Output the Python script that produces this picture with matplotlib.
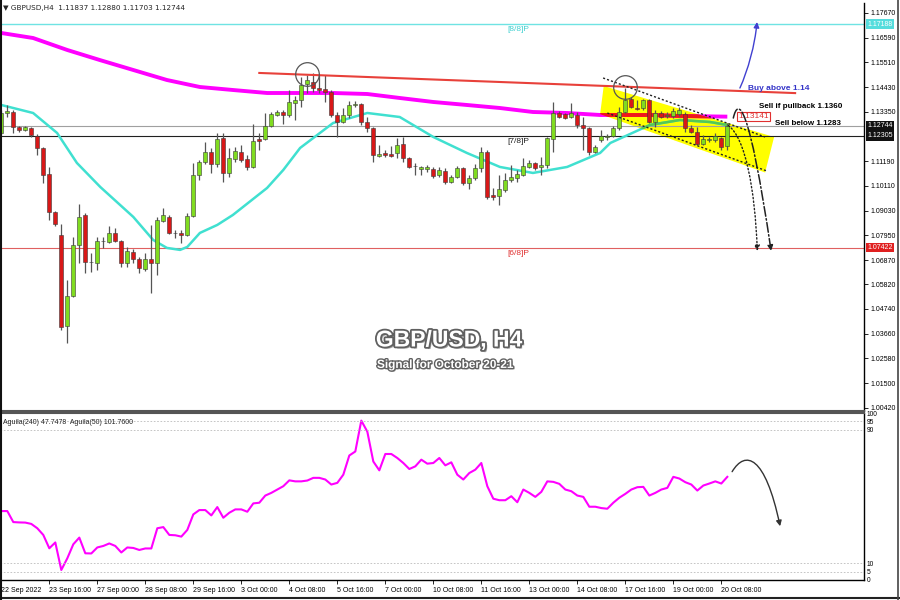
import matplotlib
matplotlib.use('Agg')
import matplotlib.pyplot as plt
import matplotlib.patheffects as pe
from matplotlib.patches import Polygon, FancyArrowPatch
from matplotlib.path import Path
import numpy as np

# --- velas H4 GBPUSD (22 Sep 08:00 -> 20 Oct 08:00) ---
opens = [
    1.12427, 1.13300, 1.13344, 1.12689, 1.12558, 1.12645, 1.12296, 1.11772, 1.10636, 1.08976,
    1.07972, 1.03996, 1.05307, 1.07535, 1.08845, 1.06793, 1.06749, 1.07710, 1.07666, 1.08059,
    1.07710, 1.06749, 1.07230, 1.06924, 1.06487, 1.06924, 1.06749, 1.08583, 1.08758, 1.08059,
    1.08059, 1.07972, 1.08802, 1.10593, 1.11160, 1.11597, 1.11073, 1.12208, 1.10680, 1.11291,
    1.11597, 1.11291, 1.10942, 1.12165, 1.12165, 1.12732, 1.13213, 1.13344, 1.13213, 1.13737,
    1.13868, 1.14567, 1.14655, 1.14392, 1.14349, 1.14218, 1.13213, 1.12907, 1.13213, 1.13650,
    1.13693, 1.12907, 1.12645, 1.11422, 1.11553, 1.11510, 1.11553, 1.11946, 1.11335, 1.10986,
    1.10855, 1.10855, 1.10855, 1.10593, 1.10767, 1.10287, 1.10505, 1.10898, 1.10243, 1.10462,
    1.10898, 1.11597, 1.09719, 1.09675, 1.09937, 1.10374, 1.10462, 1.10593, 1.10942, 1.11117,
    1.10942, 1.11029, 1.12165, 1.13300, 1.13256, 1.13125, 1.13213, 1.12776, 1.12645, 1.11597,
    1.12121, 1.12252, 1.12296, 1.12645, 1.13344, 1.13912, 1.13518, 1.13518, 1.13868, 1.12907,
    1.13300, 1.13169, 1.13169, 1.13256, 1.13256, 1.12645, 1.12470, 1.11946, 1.12121, 1.12121,
    1.12208, 1.11837]
highs = [
    1.13431, 1.13650, 1.13431, 1.12732, 1.12732, 1.12689, 1.12383, 1.11815, 1.10942, 1.09020,
    1.08452, 1.06007, 1.07885, 1.09323, 1.08933, 1.07186, 1.07885, 1.07885, 1.08365, 1.08278,
    1.07754, 1.07448, 1.07361, 1.07011, 1.07186, 1.08409, 1.08758, 1.09148, 1.08845, 1.08190,
    1.08190, 1.08933, 1.11117, 1.11248, 1.12034, 1.11772, 1.12427, 1.12427, 1.11772, 1.11815,
    1.11903, 1.11466, 1.12820, 1.12427, 1.13300, 1.13344, 1.13431, 1.13431, 1.14305, 1.14043,
    1.14873, 1.14960, 1.15048, 1.14960, 1.14960, 1.14305, 1.13344, 1.13518, 1.13824, 1.13824,
    1.13737, 1.13125, 1.12689, 1.11903, 1.11684, 1.11859, 1.12208, 1.12252, 1.11379, 1.11117,
    1.10986, 1.11029, 1.10942, 1.10942, 1.10898, 1.10593, 1.10986, 1.10942, 1.10593, 1.11073,
    1.11815, 1.11684, 1.10025, 1.10593, 1.10680, 1.11029, 1.10811, 1.11335, 1.11248, 1.11160,
    1.11379, 1.12252, 1.13781, 1.13387, 1.13300, 1.13737, 1.13344, 1.13125, 1.12689, 1.11903,
    1.12558, 1.12383, 1.12732, 1.13562, 1.14392, 1.14000, 1.13868, 1.13912, 1.13912, 1.13431,
    1.13387, 1.13344, 1.13518, 1.13562, 1.13344, 1.12776, 1.12689, 1.12339, 1.12252, 1.12427,
    1.12252, 1.12880]
lows = [
    1.12339, 1.13125, 1.12427, 1.12470, 1.12514, 1.12252, 1.11466, 1.10243, 1.08627, 1.08365,
    1.03821, 1.03253, 1.05263, 1.06749, 1.06312, 1.06356, 1.06443, 1.07404, 1.07623, 1.07666,
    1.06574, 1.06574, 1.06749, 1.06312, 1.06400, 1.05438, 1.06225, 1.08540, 1.08016, 1.07841,
    1.07623, 1.07928, 1.08758, 1.10374, 1.11073, 1.10680, 1.10942, 1.10287, 1.10505, 1.11160,
    1.11160, 1.10811, 1.10898, 1.11684, 1.12121, 1.12689, 1.13169, 1.12820, 1.13125, 1.12994,
    1.13562, 1.14174, 1.14218, 1.14174, 1.13781, 1.13125, 1.12252, 1.12863, 1.13082, 1.13562,
    1.12776, 1.12470, 1.11160, 1.11379, 1.11379, 1.11379, 1.11335, 1.11160, 1.10898, 1.10593,
    1.10593, 1.10724, 1.10462, 1.10505, 1.10200, 1.10243, 1.10462, 1.10156, 1.09981, 1.10374,
    1.10724, 1.09544, 1.09501, 1.09282, 1.09850, 1.10287, 1.10287, 1.10549, 1.10898, 1.10811,
    1.10593, 1.10898, 1.11597, 1.13082, 1.13038, 1.13082, 1.12645, 1.11684, 1.11466, 1.11553,
    1.12034, 1.12121, 1.12252, 1.12558, 1.13300, 1.13518, 1.13431, 1.13431, 1.12863, 1.12689,
    1.13082, 1.13082, 1.13082, 1.13169, 1.12470, 1.12427, 1.11903, 1.11903, 1.12034, 1.12034,
    1.11684, 1.11703]
closes = [
    1.13300, 1.13387, 1.12689, 1.12558, 1.12689, 1.12339, 1.11772, 1.10593, 1.08976, 1.08452,
    1.03952, 1.05307, 1.07535, 1.08758, 1.06793, 1.06770, 1.07710, 1.07688, 1.08059, 1.07710,
    1.06749, 1.07273, 1.06924, 1.06531, 1.06924, 1.06749, 1.08627, 1.08845, 1.08059, 1.08037,
    1.07972, 1.08802, 1.10593, 1.11160, 1.11597, 1.11073, 1.12165, 1.10680, 1.11335, 1.11641,
    1.11248, 1.10942, 1.12077, 1.12077, 1.12732, 1.13256, 1.13344, 1.13213, 1.13781, 1.13868,
    1.14524, 1.14742, 1.14392, 1.14305, 1.14218, 1.13213, 1.12907, 1.13213, 1.13650, 1.13693,
    1.12907, 1.12645, 1.11466, 1.11510, 1.11466, 1.11422, 1.11903, 1.11335, 1.10942, 1.10964,
    1.10942, 1.10942, 1.10549, 1.10811, 1.10287, 1.10505, 1.10898, 1.10243, 1.10462, 1.10898,
    1.11597, 1.09632, 1.09632, 1.09981, 1.10374, 1.10505, 1.10636, 1.10986, 1.11117, 1.10898,
    1.11029, 1.12208, 1.13300, 1.13125, 1.13082, 1.13300, 1.12776, 1.12645, 1.11597, 1.11815,
    1.12296, 1.12296, 1.12645, 1.13344, 1.13868, 1.13562, 1.13475, 1.13868, 1.12907, 1.13300,
    1.13125, 1.13213, 1.13387, 1.13431, 1.12645, 1.12470, 1.11946, 1.12165, 1.12165, 1.12296,
    1.11815, 1.12744]

# medias moviles (posicion en velas, precio)
ma_slow_x = [0, 5.3, 11, 16.4, 22, 27.6, 33.1, 38.6, 44.3, 49.8, 55.3, 61, 66.4, 72, 77.6,
             83.1, 88.6, 94.3, 99.8, 108.1, 113.1, 121]
ma_slow = [1.16796, 1.16577, 1.16053, 1.15616, 1.15179, 1.14742, 1.14436, 1.14305, 1.14174,
           1.14174, 1.14174, 1.14130, 1.13956, 1.13781, 1.13650, 1.13518, 1.13344, 1.13300,
           1.13213, 1.13213, 1.13169, 1.13141]
ma_fast_x = [0, 5.3, 9.3, 12.6, 16.5, 22, 25.3, 27.6, 29.8, 31, 33.1, 36, 38.6, 44.3, 47, 49.8,
             55.3, 61, 66.4, 72, 77.6, 83.1, 88.6, 94.3, 99.8, 101.5, 108.1, 113.1, 118.1, 121]
ma_fast = [1.13650, 1.13300, 1.12427, 1.11117, 1.10066, 1.08758, 1.07754, 1.07404, 1.07317,
           1.07448, 1.08059, 1.08409, 1.08845, 1.10025, 1.10811, 1.11772, 1.12863, 1.13300,
           1.13125, 1.12252, 1.11553, 1.10942, 1.10680, 1.10942, 1.11553, 1.11990, 1.12776,
           1.12994, 1.12907, 1.12776]

# indicador Aguila
aguila = [
    41.3, 41.3, 34.7, 34.5, 34.4, 33.6, 31.0, 27.0, 19.0, 22.5,
    6.0, 13.0, 21.4, 25.4, 16.0, 15.9, 19.5, 20.4, 21.9, 20.4,
    16.5, 19.5, 19.2, 18.0, 18.9, 18.9, 31.0, 31.7, 27.0, 26.8,
    26.0, 30.0, 39.3, 41.9, 41.9, 38.7, 43.7, 37.3, 40.3, 42.3,
    42.3, 40.9, 45.9, 46.3, 50.6, 52.2, 54.2, 56.2, 59.7, 59.1,
    59.1, 59.6, 61.2, 61.2, 60.2, 57.2, 58.2, 63.1, 74.6, 77.0,
    95.5, 88.9, 71.0, 65.7, 75.5, 75.5, 73.1, 70.1, 66.5, 68.1,
    72.1, 69.7, 70.1, 73.1, 68.7, 70.5, 63.1, 60.2, 64.1, 66.1,
    70.1, 56.2, 48.7, 47.8, 47.8, 50.2, 46.6, 54.2, 52.2, 49.8,
    52.8, 59.1, 58.8, 57.6, 54.2, 53.2, 50.6, 49.8, 43.9, 43.9,
    43.1, 42.7, 46.3, 49.3, 51.6, 54.2, 55.6, 55.8, 50.6, 52.2,
    54.2, 55.2, 61.8, 60.8, 58.6, 57.2, 53.6, 56.6, 57.8, 59.1,
    57.8, 61.8]

time_labels = ['22 Sep 2022', '23 Sep 16:00', '27 Sep 00:00', '28 Sep 08:00', '29 Sep 16:00',
               '3 Oct 00:00', '4 Oct 08:00', '5 Oct 16:00', '7 Oct 00:00', '10 Oct 08:00',
               '11 Oct 16:00', '13 Oct 00:00', '14 Oct 08:00', '17 Oct 16:00', '19 Oct 00:00',
               '20 Oct 08:00']
price_ticks = [1.17670, 1.16590, 1.15510, 1.14430, 1.13350, 1.11190, 1.10110, 1.09030,
               1.07950, 1.06870, 1.05820, 1.04740, 1.03660, 1.02580, 1.01500, 1.00420]

# niveles de Murrey y precio actual
lvl_88, lvl_78, lvl_68 = 1.17188, 1.12305, 1.07422
bid = 1.12744
ma_label = 1.13141

# canal bajista y linea de tendencia
trend_x, trend_y = [43, 132.3], [1.1505, 1.1417]
chan_x = [100.4, 128.8, 127.3, 99.8]
chan_y = [1.14480, 1.12250, 1.10700, 1.13250]
upper_x, upper_y = [100.3, 127.3], [1.14830, 1.12252]
lower_x, lower_y = [101.0, 127.6], [1.13300, 1.10766]

plt.rcParams['font.family'] = ['Liberation Sans', 'DejaVu Sans']

fig = plt.figure(figsize=(9, 6), dpi=100)
ax = fig.add_axes([0, 1 - 411 / 600, 864 / 900, 408 / 600])
ax2 = fig.add_axes([0, 1 - 580 / 600, 864 / 900, 167 / 600])

n = len(opens)
idx = np.arange(n)
o, h, l, c = map(np.array, (opens, highs, lows, closes))
up = c >= o

# canal amarillo
poly = Polygon(list(zip(chan_x, chan_y)), closed=True, facecolor='#FFFF00', edgecolor='none', zorder=1)
ax.add_patch(poly)

ax.plot(ma_slow_x, ma_slow, color='#FF00FF', lw=2.8, zorder=2, solid_capstyle='butt')
ax.plot(ma_fast_x, ma_fast, color='#40E0D0', lw=1.8, zorder=2)
m2, = ax.plot(ma_slow_x, ma_slow, color='#F01818', lw=2.8, zorder=2.1, solid_capstyle='butt')
m2.set_clip_path(poly)
f2, = ax.plot(ma_fast_x, ma_fast, color='#55C855', lw=1.8, zorder=2.1)
f2.set_clip_path(poly)

# niveles horizontales
ax.axhline(lvl_88, color='#6FE3E3', lw=1.0, zorder=1.5)
ax.axhline(lvl_78, color='#202020', lw=0.8, zorder=1.5)
ax.axhline(lvl_68, color='#E06060', lw=0.8, zorder=1.5)
ax.axhline(bid, color='#A0A0A0', lw=0.8, zorder=1.5)

# velas
ax.vlines(idx, l, h, color='#555555', lw=0.9, zorder=3)
body_lo = np.minimum(o, c)
body_h = np.maximum(np.abs(c - o), 0.00008)
ax.bar(idx, body_h, bottom=body_lo, width=0.62,
       color=np.where(up, '#80DC20', '#D81818'), edgecolor='#3A3A3A', linewidth=0.4, zorder=4)

# linea de tendencia roja y canal punteado
ax.plot(trend_x, trend_y, color='#E8413A', lw=1.5, zorder=5)
ax.plot(upper_x, upper_y, color='#222222', lw=1.0, ls=(0, (1.5, 1.5)), zorder=5)
ax.plot(lower_x, lower_y, color='#222222', lw=1.0, ls=(0, (1.5, 1.5)), zorder=5)

# circulos de maximos
ax.plot([51.0, 104.0], [1.15000, 1.14436], 'o', ms=17, mfc='none', mec='#555555', mew=0.9, zorder=6)

# etiquetas de niveles
ax.text(84.4, lvl_88 - 0.0009, '[8/8]P', color='#40D0D0', fontsize=6, va='top', zorder=6)
ax.text(84.4, lvl_78 - 0.0009, '[7/8]P', color='#202020', fontsize=6, va='top', zorder=6)
ax.text(84.4, lvl_68 - 0.0009, '[6/8]P', color='#E03030', fontsize=6, va='top', zorder=6)
ax.text(122.8, ma_label, f'{ma_label:.5f}', color='#E03030', fontsize=6, va='center', zorder=6,
        bbox=dict(boxstyle='square,pad=0.15', facecolor='white', edgecolor='#E03030', lw=0.8))

# anotaciones de senal
ax.text(124.4, 1.1436, 'Buy above 1.14', color='#3434C8', fontsize=6, fontweight='bold', va='center', zorder=7)
ax.text(126.2, 1.1357, 'Sell if pullback 1.1360', color='black', fontsize=5.8, fontweight='bold', va='center', zorder=7)
ax.text(129.0, 1.1283, 'Sell below 1.1283', color='black', fontsize=5.8, fontweight='bold', va='center', zorder=7)


def curve_arrow(axis, xs, ys, color, ls='-', lw=1.0):
    path = Path(list(zip(xs, ys)), [Path.MOVETO, Path.CURVE4, Path.CURVE4, Path.CURVE4])
    axis.add_patch(FancyArrowPatch(path=path, arrowstyle='-|>', mutation_scale=8,
                                   color=color, lw=lw, linestyle=ls, zorder=8))


curve_arrow(ax, [123.1, 124.45, 125.6, 125.95], [1.14392, 1.15179, 1.16271, 1.17277], '#4040D0')
curve_arrow(ax, [122.0, 122.8, 124.6, 128.3], [1.1308, 1.1400, 1.1380, 1.0727], '#222222', ls='-.', lw=1.1)
curve_arrow(ax, [121.2, 124.0, 125.6, 126.0], [1.1275, 1.1220, 1.1000, 1.0727], '#222222', ls=':', lw=1.0)

# titulo central
shadow = [pe.SimplePatchShadow(offset=(1.5, -1.5), shadow_rgbFace='#333333', alpha=0.45),
          pe.Stroke(linewidth=2.6, foreground='#606060'), pe.Normal()]
ax.text(74.6, 1.0338, 'GBP/USD, H4', color='white', fontsize=16.5, fontweight='bold',
        ha='center', va='center', path_effects=shadow, zorder=9)
shadow2 = [pe.SimplePatchShadow(offset=(1, -1), shadow_rgbFace='#333333', alpha=0.45),
           pe.Stroke(linewidth=2.0, foreground='#606060'), pe.Normal()]
ax.text(74.0, 1.0229, 'Signal for October 20-21', color='white', fontsize=8.5, fontweight='bold',
        ha='center', va='center', path_effects=shadow2, zorder=9)

ax.text(0.004, 0.988, '\u25BC GBPUSD,H4  %.5f %.5f %.5f %.5f' % (opens[-1], highs[-1], lows[-1], closes[-1]),
        transform=ax.transAxes, fontsize=5.2, va='center', family=['DejaVu Sans'], color='#222222')

ax.set_xlim(-0.217, 143.78)
ax.set_ylim(1.00277, 1.18107)
ax.set_xticks([])
ax.yaxis.tick_right()
ax.set_yticks(price_ticks)
ax.set_yticklabels([f'{v:.5f}' for v in price_ticks])
ax.tick_params(axis='y', direction='out', length=3, width=0.6, labelsize=5, pad=2)

# cajas de precio en el eje derecho
for val, fc in [(lvl_88, '#55DDDD'), (bid, '#111111'), (lvl_78, '#111111'), (lvl_68, '#E02020')]:
    ax.text(1.0035, val, f'{val:.5f}', transform=ax.get_yaxis_transform(), color='white',
            fontsize=5, va='center', ha='left', zorder=10, clip_on=False,
            bbox=dict(boxstyle='square,pad=0.2', facecolor=fc, edgecolor='none'))

ax.spines['top'].set_visible(False)
ax.spines['left'].set_linewidth(2)
ax.spines['right'].set_linewidth(1)
ax.spines['bottom'].set_linewidth(1.5)
ax.spines['bottom'].set_color('#555555')

# panel del indicador
ax2.plot(idx, aguila, color='#FF00FF', lw=1.5)
for lv in [95, 90, 10, 5]:
    ax2.axhline(lv, color='#BBBBBB', lw=0.6, ls=(0, (2, 2)))
ax2.text(0.003, 0.945, 'Aguila(240) 47.7478  Aguila(50) 101.7600', transform=ax2.transAxes,
         fontsize=5, va='center', color='#222222')
curve_arrow(ax2, [121.8, 124.0, 127.3, 129.8], [64.9, 78.0, 75.0, 32.2], '#333333', lw=1.0)

ax2.set_xlim(-0.217, 143.78)
ax2.set_ylim(0.6, 100.06)
ax2.yaxis.tick_right()
ax2.set_yticks([100, 95, 90, 10, 5, 0])
ax2.set_yticklabels(['100', '95', '90', '10', '5', '0'])
ax2.tick_params(axis='y', direction='out', length=0, labelsize=4.8, pad=2)
ax2.set_xticks(np.arange(0, 121, 8))
ax2.set_xticklabels(time_labels)
ax2.tick_params(axis='x', direction='out', length=3, width=0.6, labelsize=5, pad=2)
for lab in ax2.get_xticklabels():
    lab.set_ha('left')
ax2.spines['top'].set_linewidth(1.5)
ax2.spines['top'].set_color('#555555')
ax2.spines['left'].set_linewidth(2)
ax2.spines['right'].set_linewidth(1)
ax2.spines['bottom'].set_linewidth(1)

# marco exterior
fig.add_artist(plt.Line2D([0, 1], [0.004, 0.004], transform=fig.transFigure, color='#222222', lw=1.5))
fig.add_artist(plt.Line2D([0.998, 0.998], [0, 1], transform=fig.transFigure, color='#444444', lw=1.2))
fig.add_artist(plt.Line2D([0.001, 0.001], [0, 1], transform=fig.transFigure, color='#111111', lw=1.5))

fig.savefig('out.png', dpi=100)
